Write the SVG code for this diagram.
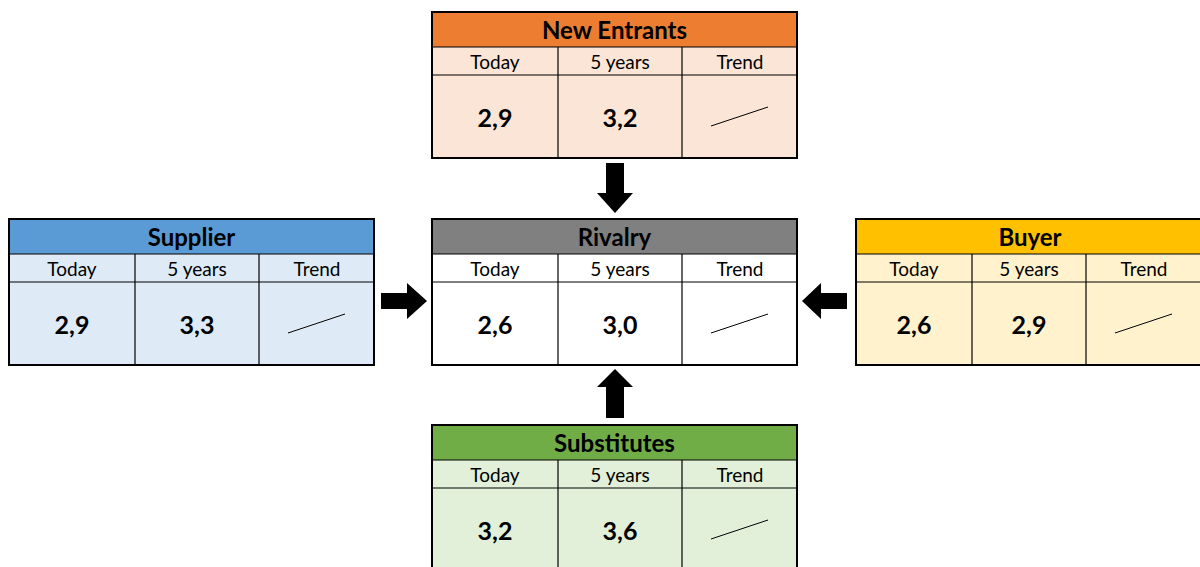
<svg xmlns="http://www.w3.org/2000/svg" width="1200" height="567" viewBox="0 0 1200 567">
  <style>
    .frame { stroke: #000; stroke-width: 2; fill: none; }
    .grid { stroke: #000; stroke-width: 1.2; fill: none; }
    .title { font-family: Lato, "Liberation Sans", sans-serif; font-weight: bold; font-size: 24px; fill: #000; text-anchor: middle; }
    .col { font-family: Lato, "Liberation Sans", sans-serif; font-size: 19px; fill: #000; text-anchor: middle; }
    .val { font-family: Lato, "Liberation Sans", sans-serif; font-weight: bold; font-size: 25px; fill: #000; text-anchor: middle; }
    .trend { stroke: #000; stroke-width: 1; }
    .arrow { fill: #000; }
  </style>
  <defs>
    <!-- shared table body: rows and columns, drawn at origin -->
    <g id="table-lines">
      <line class="grid" x1="0" y1="35" x2="365" y2="35"/>
      <line class="grid" x1="0" y1="63" x2="365" y2="63"/>
      <line class="grid" x1="126" y1="35" x2="126" y2="146"/>
      <line class="grid" x1="250" y1="35" x2="250" y2="146"/>
      <rect x="0" y="0" width="365" height="146" class="frame"/>
    </g>
    <g id="col-heads">
      <text class="col" x="63" y="57">Today</text>
      <text class="col" x="188" y="57">5 years</text>
      <text class="col" x="308" y="57">Trend</text>
    </g>
    <line id="trend-up" class="trend" x1="279" y1="114" x2="336" y2="95"/>
  </defs>

  <!-- New Entrants -->
  <g id="new-entrants" transform="translate(432,12)">
    <rect x="0" y="0" width="365" height="146" fill="#FBE5D6"/>
    <rect x="0" y="0" width="365" height="35" fill="#ED7D31"/>
    <text class="title" x="182.5" y="27">New Entrants</text>
    <use href="#col-heads"/>
    <text class="val" x="63" y="115">2,9</text>
    <text class="val" x="188" y="115">3,2</text>
    <use href="#trend-up"/>
    <use href="#table-lines"/>
  </g>

  <!-- Supplier -->
  <g id="supplier" transform="translate(9,219)">
    <rect x="0" y="0" width="365" height="146" fill="#DEEBF7"/>
    <rect x="0" y="0" width="365" height="35" fill="#5B9BD5"/>
    <text class="title" x="182.5" y="27">Supplier</text>
    <use href="#col-heads"/>
    <text class="val" x="63" y="115">2,9</text>
    <text class="val" x="188" y="115">3,3</text>
    <use href="#trend-up"/>
    <use href="#table-lines"/>
  </g>

  <!-- Rivalry -->
  <g id="rivalry" transform="translate(432,219)">
    <rect x="0" y="0" width="365" height="146" fill="#FFFFFF"/>
    <rect x="0" y="0" width="365" height="35" fill="#808080"/>
    <text class="title" x="182.5" y="27">Rivalry</text>
    <use href="#col-heads"/>
    <text class="val" x="63" y="115">2,6</text>
    <text class="val" x="188" y="115">3,0</text>
    <use href="#trend-up"/>
    <use href="#table-lines"/>
  </g>

  <!-- Buyer (narrower columns, runs past the right edge) -->
  <g id="buyer" transform="translate(856,219)">
    <rect x="0" y="0" width="348" height="146" fill="#FFF2CC"/>
    <rect x="0" y="0" width="348" height="35" fill="#FFC000"/>
    <text class="title" x="174" y="27">Buyer</text>
    <text class="col" x="58" y="57">Today</text>
    <text class="col" x="173" y="57">5 years</text>
    <text class="col" x="288" y="57">Trend</text>
    <text class="val" x="58" y="115">2,6</text>
    <text class="val" x="173" y="115">2,9</text>
    <line class="trend" x1="259" y1="114" x2="316" y2="95"/>
    <line class="grid" x1="0" y1="35" x2="348" y2="35"/>
    <line class="grid" x1="0" y1="63" x2="348" y2="63"/>
    <line class="grid" x1="116" y1="35" x2="116" y2="146"/>
    <line class="grid" x1="230" y1="35" x2="230" y2="146"/>
    <rect x="0" y="0" width="348" height="146" class="frame"/>
  </g>

  <!-- Substitutes -->
  <g id="substitutes" transform="translate(432,425)">
    <rect x="0" y="0" width="365" height="146" fill="#E2F0D9"/>
    <rect x="0" y="0" width="365" height="35" fill="#70AD47"/>
    <text class="title" x="182.5" y="27">Substitutes</text>
    <use href="#col-heads"/>
    <text class="val" x="63" y="115">3,2</text>
    <text class="val" x="188" y="115">3,6</text>
    <use href="#trend-up"/>
    <use href="#table-lines"/>
  </g>

  <!-- block arrows pointing into Rivalry -->
  <g id="connectors">
    <polygon class="arrow" points="606,163 624,163 624,193 633,193 615,213 597,193 606,193"/>
    <polygon class="arrow" points="606,418 624,418 624,387 633,387 615,369 597,387 606,387"/>
    <polygon class="arrow" points="381,293 407,293 407,283 427,301 407,319 407,309 381,309"/>
    <polygon class="arrow" points="847,293 821,293 821,283 802,301 821,319 821,309 847,309"/>
  </g>
</svg>
